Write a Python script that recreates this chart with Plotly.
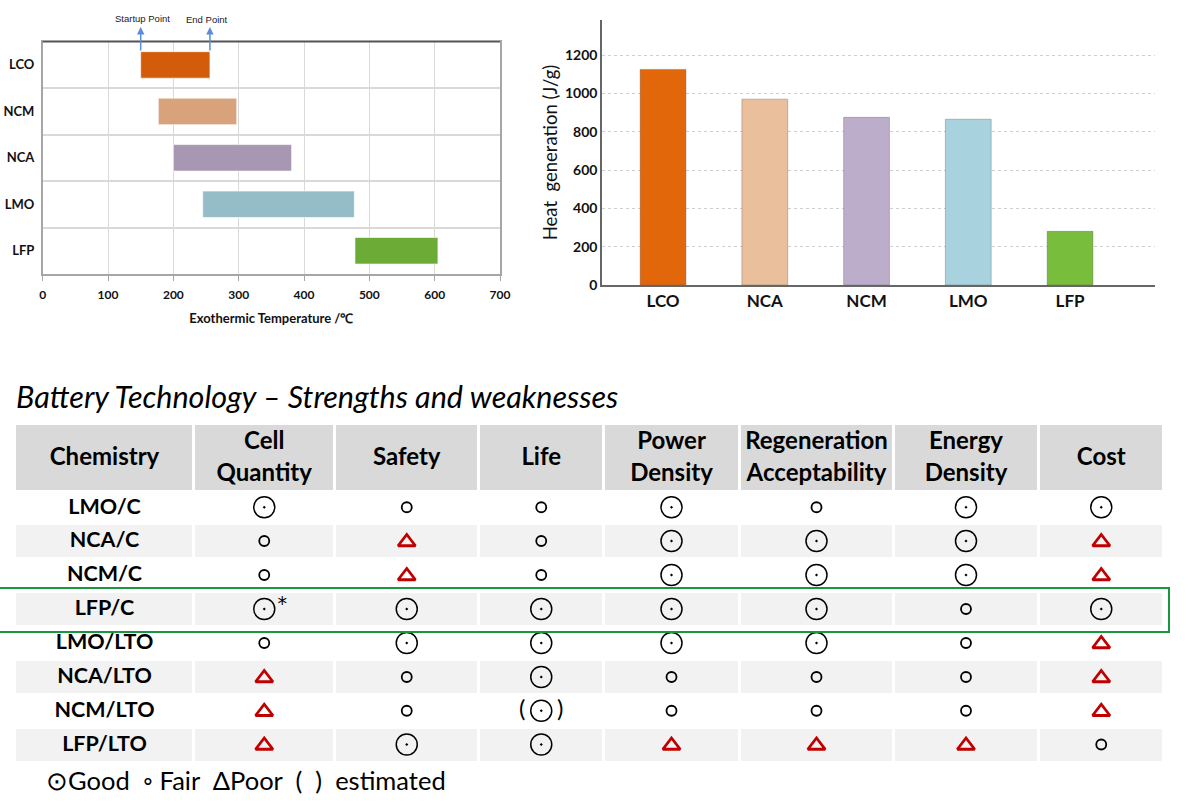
import plotly.graph_objects as go

# ---------------- data ----------------
# Left: exothermic temperature range
temp_cats = ["LCO", "NCM", "NCA", "LMO", "LFP"]
temp_start = [150, 177, 200, 245, 478]
temp_end = [256, 297, 381, 477, 605]
temp_colors = ["#d35c0a", "#d8a27a", "#a797b2", "#94bdc7", "#6cab36"]

# Right: heat generation (J/g)
heat_cats = ["LCO", "NCA", "NCM", "LMO", "LFP"]
heat_values = [1125, 970, 875, 865, 280]
heat_colors = ["#e2660a", "#eabf9c", "#bcadca", "#a8d3de", "#79bd3d"]

# Bottom: strengths / weaknesses table
table_columns = ["Chemistry", "Cell<br>Quantity", "Safety", "Life", "Power<br>Density",
                 "Regeneration<br>Acceptability", "Energy<br>Density", "Cost"]
chemistries = ["LMO/C", "NCA/C", "NCM/C", "LFP/C", "LMO/LTO", "NCA/LTO", "NCM/LTO", "LFP/LTO"]
cell_quantity = ["G", "F", "F", "G*", "F", "P", "P", "P"]
safety = ["F", "P", "P", "G", "G", "F", "F", "G"]
life = ["F", "F", "F", "G", "G", "G", "(G)", "G"]
power_density = ["G", "G", "G", "G", "G", "F", "F", "P"]
regeneration = ["F", "G", "G", "G", "G", "F", "F", "P"]
energy_density = ["G", "G", "G", "F", "F", "F", "F", "P"]
cost = ["G", "P", "P", "G", "P", "P", "P", "F"]
rating_columns = [cell_quantity, safety, life, power_density, regeneration, energy_density, cost]

# ---------------- layout constants ----------------
W, H = 1196, 802
CAL = "Lato, 'Open Sans', sans-serif"
col_edges = [15, 194, 334.5, 479, 603.5, 739.5, 893.5, 1038.5, 1164]
row_edges = [424, 490.5, 524, 558, 592, 626, 660, 694, 727.5, 761.5]
col_centers = [(a + b) / 2 for a, b in zip(col_edges[:-1], col_edges[1:])]
row_centers = [(a + b) / 2 for a, b in zip(row_edges[:-1], row_edges[1:])]
TAB_TOP, TAB_BOT = 415, 775


def py(px):
    return 1 - px / H


fig = go.Figure()

# ---------- left chart: horizontal floating bars ----------
fig.add_trace(go.Bar(
    y=temp_cats, x=[e - s for s, e in zip(temp_start, temp_end)], base=temp_start,
    orientation="h", width=0.57,
    marker=dict(color=temp_colors, line=dict(color="rgba(255,255,255,0.6)", width=1)),
    xaxis="x", yaxis="y", hoverinfo="skip", showlegend=False))

# ---------- right chart: heat generation bars ----------
fig.add_trace(go.Bar(
    x=heat_cats, y=heat_values, width=0.45,
    marker=dict(color=heat_colors, line=dict(color="rgba(90,90,90,0.35)", width=1)),
    xaxis="x2", yaxis="y2", hoverinfo="skip", showlegend=False))

# ---------- table background cells ----------
z = [[2] * 8] + [[i % 2] * 8 for i in range(8)]
fig.add_trace(go.Heatmap(
    x=col_edges, y=row_edges, z=z, zmin=0, zmax=2,
    colorscale=[[0, "#ffffff"], [0.5, "#f2f2f2"], [1, "#d9d9d9"]],
    showscale=False, xgap=3, ygap=2, hoverinfo="skip",
    xaxis="x3", yaxis="y3"))

# header texts
hx, hy, ht = [], [], []
for c, label in enumerate(table_columns):
    lines = label.split("<br>")
    if len(lines) == 1:
        hx.append(col_centers[c]); hy.append(459); ht.append(lines[0])
    else:
        hx += [col_centers[c]] * 2; hy += [443, 475]; ht += lines
fig.add_trace(go.Scatter(
    x=hx, y=hy, text=ht, mode="text",
    textfont=dict(family=CAL, size=24, color="#000", weight="bold"),
    xaxis="x3", yaxis="y3", hoverinfo="skip", showlegend=False))

# row labels
fig.add_trace(go.Scatter(
    x=[col_centers[0]] * len(chemistries), y=[v + 1 for v in row_centers[1:]], text=chemistries,
    mode="text", textfont=dict(family=CAL, size=21.5, color="#000", weight="bold"),
    xaxis="x3", yaxis="y3", hoverinfo="skip", showlegend=False))

# rating symbols
pos = {"G": ([], []), "F": ([], []), "P": ([], [])}
star_x, star_y = [], []
par_x, par_y, par_t = [], [], []
for c, col in enumerate(rating_columns):
    for r, val in enumerate(col):
        x, y = col_centers[c + 1], row_centers[r + 1]
        key = val.strip("()*")
        pos[key][0].append(x); pos[key][1].append(y)
        if val.endswith("*"):
            star_x.append(x + 18); star_y.append(y - 4)
        if val.startswith("("):
            par_x += [x - 19, x + 19]; par_y += [y, y]; par_t += ["(", ")"]

fig.add_trace(go.Scatter(
    x=pos["G"][0], y=pos["G"][1], mode="markers",
    marker=dict(symbol="circle-open-dot", size=21, color="#000", line=dict(width=1.5, color="#000")),
    xaxis="x3", yaxis="y3", hoverinfo="skip", showlegend=False))
fig.add_trace(go.Scatter(
    x=pos["F"][0], y=pos["F"][1], mode="markers",
    marker=dict(symbol="circle-open", size=10, color="#000", line=dict(width=1.8, color="#000")),
    xaxis="x3", yaxis="y3", hoverinfo="skip", showlegend=False))
fig.add_trace(go.Scatter(
    x=pos["P"][0], y=[v + 1 for v in pos["P"][1]], mode="markers",
    marker=dict(symbol="triangle-up-open", size=15, color="#c00000", line=dict(width=2.8, color="#c00000")),
    xaxis="x3", yaxis="y3", hoverinfo="skip", showlegend=False))
fig.add_trace(go.Scatter(
    x=par_x, y=par_y, text=par_t, mode="text",
    textfont=dict(family=CAL, size=24, color="#000"),
    xaxis="x3", yaxis="y3", hoverinfo="skip", showlegend=False))
fig.add_trace(go.Scatter(
    x=star_x, y=star_y, text=["*"] * len(star_x), mode="text",
    textfont=dict(family="DejaVu Sans", size=19, color="#000"),
    xaxis="x3", yaxis="y3", hoverinfo="skip", showlegend=False))

# ---------------- layout ----------------
fig.update_layout(
    width=W, height=H, margin=dict(l=0, r=0, t=0, b=0, autoexpand=False),
    paper_bgcolor="white", plot_bgcolor="rgba(0,0,0,0)",
    font=dict(family=CAL, color="#000"),
    xaxis=dict(domain=[42.7 / W, 500 / W], anchor="y", range=[0, 700], dtick=100,
               showgrid=True, gridcolor="#d9d9d9", gridwidth=1, zeroline=False,
               showline=True, linecolor="#a6a6a6", linewidth=1.5, mirror=True,
               ticks="outside", ticklen=5, tickcolor="#a6a6a6", ticklabelstandoff=4,
               tickfont=dict(family=CAL, size=12, color="#111", weight="bold"),
               title=dict(text="Exothermic Temperature /℃", standoff=13,
                          font=dict(family=CAL, size=13, color="#111", weight="bold")),
               fixedrange=True),
    yaxis=dict(domain=[py(274), py(41.7)], anchor="x", type="category",
               categoryorder="array", categoryarray=temp_cats, autorange="reversed",
               tickson="boundaries", showgrid=True, gridcolor="#d9d9d9", gridwidth=1.5,
               showline=True, linecolor="#a6a6a6", linewidth=1.5, mirror=True, ticks="",
               ticklabelstandoff=4,
               tickfont=dict(family=CAL, size=13, color="#111", weight="bold"),
               fixedrange=True),
    xaxis2=dict(domain=[602 / W, 1155 / W], anchor="y2", type="category",
                range=[-0.6, 4.835], showgrid=False, showline=True, linecolor="#666",
                linewidth=1.5, ticks="", ticklabelstandoff=0,
                tickfont=dict(family=CAL, size=17, color="#111", weight="bold"),
                fixedrange=True),
    yaxis2=dict(domain=[py(285), py(20)], anchor="x2", range=[0, 1383], dtick=200,
                showgrid=True, gridcolor="#cfcfcf", griddash="dot", gridwidth=1,
                zeroline=False, showline=True, linecolor="#666", linewidth=1.5, ticks="",
                tickfont=dict(family=CAL, size=14, color="#111", weight="bold"),
                title=dict(text="Heat  generation (J/g)", standoff=2,
                           font=dict(family=CAL, size=18.5, color="#111")),
                fixedrange=True),
    xaxis3=dict(domain=[0, 1], anchor="y3", range=[0, W], visible=False, fixedrange=True),
    yaxis3=dict(domain=[py(TAB_BOT), py(TAB_TOP)], anchor="x3", range=[TAB_BOT, TAB_TOP],
                visible=False, fixedrange=True),
)

# top border of left plot (darker)
fig.add_shape(type="line", xref="x domain", yref="y domain", x0=0, x1=1, y0=1, y1=1,
              line=dict(color="#555", width=1.5))

# green highlight box around LFP/C row
fig.add_shape(type="rect", xref="paper", yref="paper", x0=-0.01, x1=1169 / W,
              y0=py(632), y1=py(588), line=dict(color="#1a9641", width=2), fillcolor="rgba(0,0,0,0)")

annotations = [
    dict(text="Startup Point", x=153, xref="x", y=py(18), yref="paper", showarrow=False,
         xanchor="center", yanchor="middle",
         font=dict(family="Liberation Sans, Arial", size=9.5, color="#1a1a1a")),
    dict(text="End Point", x=252, xref="x", y=py(19.5), yref="paper", showarrow=False,
         xanchor="center", yanchor="middle",
         font=dict(family="Liberation Sans, Arial", size=9.5, color="#1a1a1a")),
    dict(text="", x=temp_start[0], xref="x", y=py(27), yref="paper", showarrow=True,
         ax=0, ay=25, arrowhead=2, arrowsize=1, arrowwidth=1.5, arrowcolor="#5b8ed6",
         font=dict(size=1)),
    dict(text="", x=temp_end[0], xref="x", y=py(27), yref="paper", showarrow=True,
         ax=0, ay=25, arrowhead=2, arrowsize=1, arrowwidth=1.5, arrowcolor="#5b8ed6",
         font=dict(size=1)),
    dict(text="<i>Battery Technology – Strengths and weaknesses</i>", x=14 / W, xref="paper",
         xanchor="left", yanchor="middle", y=py(396), yref="paper", showarrow=False,
         font=dict(family=CAL, size=30.5, color="#000")),
    dict(text="⊙Good  ◦ Fair  ΔPoor  (  )  estimated", x=44 / W, xref="paper",
         xanchor="left", yanchor="middle", y=py(780), yref="paper", showarrow=False,
         font=dict(family=CAL, size=25.5, color="#000")),
]
fig.update_layout(annotations=annotations)

fig.write_html("out.html", config={"displayModeBar": False},
               post_script="document.body.style.margin='0';")
